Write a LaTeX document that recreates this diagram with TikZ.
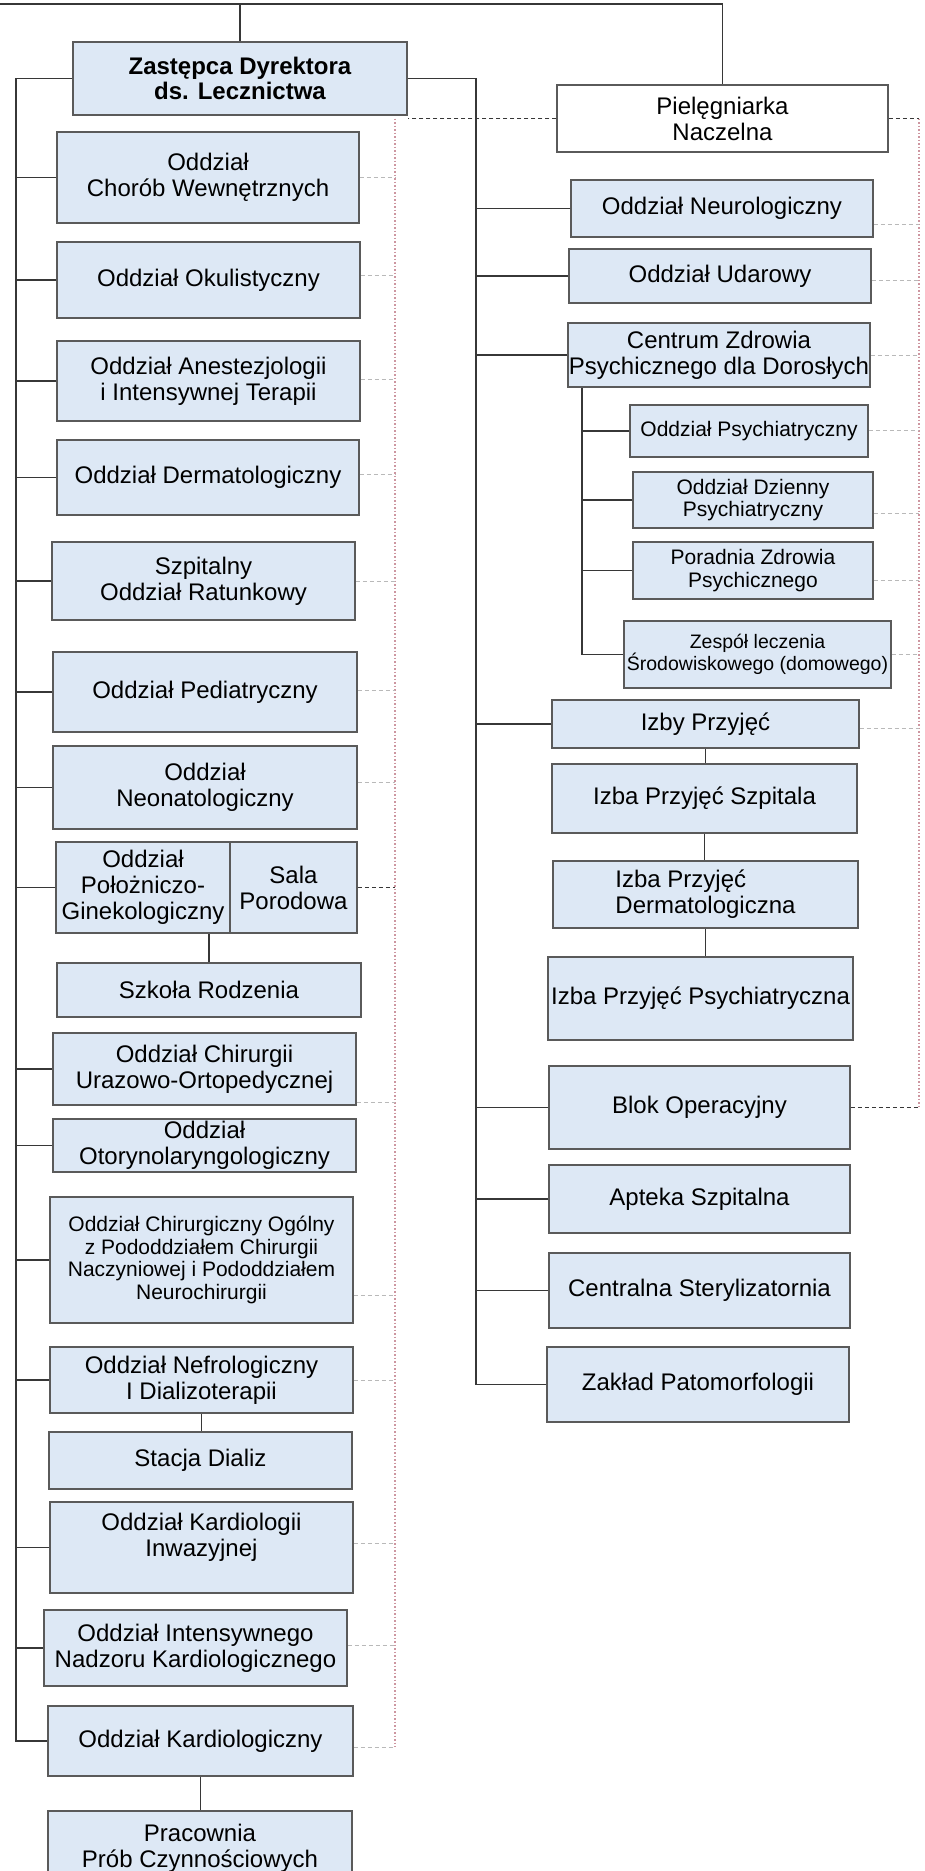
\documentclass[tikz,border=0pt]{standalone}
\usepackage{fontspec}
\setmainfont{Liberation Sans}
\usepackage{tikz}
\usetikzlibrary{calc}
\definecolor{UnitFill}{RGB}{221,232,245}
\definecolor{UnitBorder}{RGB}{90,90,90}
\definecolor{EdgeColor}{RGB}{55,55,55}
\definecolor{StubColor}{RGB}{185,185,185}
\definecolor{DotColor}{RGB}{205,150,160}
\tikzset{
  % department box
  unit/.style={
    draw=UnitBorder,
    fill=UnitFill,
    line width=1.5pt,
    align=center,
    inner sep=0pt,
    font=\fontsize{24}{26}\selectfont
  },
  % box size in pt
  wh/.style 2 args={minimum width=#1pt, minimum height=#2pt},
  % smaller text
  sunit/.style={unit, font=\fontsize{21}{22.5}\selectfont},
  % head box
  head/.style={unit, font=\fontsize{24}{25}\selectfont\bfseries},
  % white box
  wunit/.style={unit, fill=white},
  % solid connector
  edge/.style={draw=EdgeColor, line width=1.2pt},
  % dashed link
  dline/.style={draw=EdgeColor, line width=1.2pt, dash pattern=on 4pt off 3pt},
  % light dashed stub
  stub/.style={draw=StubColor, line width=1pt, dash pattern=on 4pt off 3pt},
  % dotted rail
  dotline/.style={draw=DotColor, line width=1.5pt, dash pattern=on 1.5pt off 2pt}
}

\begin{document}
\begin{tikzpicture}[x=1pt, y=-1pt]
  \fill[white] (0,0) rectangle (924,1871);
  \useasboundingbox (0,0) rectangle (924,1871);

  % left column
  \node[head, wh={334}{73}] (zast) at (240,78.5) {Zastępca Dyrektora\\ds. Lecznictwa};
  \node[unit, wh={302}{91}] (chor) at (208,177.5) {Oddział\\Chorób Wewnętrznych};
  \node[unit, wh={303}{76}] (okul) at (208.5,280) {Oddział Okulistyczny};
  \node[unit, wh={303}{80}] (anest) at (208.5,381) {Oddział Anestezjologii\\i Intensywnej Terapii};
  \node[unit, wh={302}{75}] (derm) at (208,477.5) {Oddział Dermatologiczny};
  \node[unit, wh={303}{78}] (szpit) at (203.5,581) {Szpitalny\\Oddział Ratunkowy};
  \node[unit, wh={304}{80}] (ped) at (205,692) {Oddział Pediatryczny};
  \node[unit, wh={304}{83}] (neo) at (205,787.5) {Oddział\\Neonatologiczny};
  \node[unit, wh={174}{91}] (polo) at (143,887.5) {Oddział\\Położniczo-\\Ginekologiczny};
  \node[unit, wh={127}{91}] (sala) at (293.5,887.5) {Sala\\Porodowa};
  \node[unit, wh={304}{54}] (szkola) at (209,990) {Szkoła Rodzenia};
  \node[unit, wh={303}{72}] (chiru) at (204.5,1069) {Oddział Chirurgii\\Urazowo-Ortopedycznej};
  \node[unit, wh={303}{53}] (otor) at (204.5,1145.5) {Oddział\\Otorynolaryngologiczny};
  \node[sunit, wh={303}{126}] (chirog) at (201.5,1260) {Oddział Chirurgiczny Ogólny\\z Pododdziałem Chirurgii\\Naczyniowej i Pododdziałem\\Neurochirurgii};
  \node[unit, wh={303}{66}] (nefro) at (201.5,1380) {Oddział Nefrologiczny\\I Dializoterapii};
  \node[unit, wh={303}{57}] (stacja) at (200.5,1460.5) {Stacja Dializ};
  \node[unit, wh={303}{91}] (kinw) at (201.5,1547.5) {Oddział Kardiologii\\Inwazyjnej\\\mbox{}};
  \node[unit, wh={303}{76}] (intens) at (195.5,1648) {Oddział Intensywnego\\Nadzoru Kardiologicznego};
  \node[unit, wh={305}{70}] (kard) at (200.5,1741) {Oddział Kardiologiczny};
  \node[unit, wh={304}{74}] (prac) at (200,1848) {Pracownia\\Prób Czynnościowych};

  % right column
  \node[wunit, wh={331}{67}] (piel) at (722.5,118.5) {Pielęgniarka\\Naczelna};
  \node[unit, wh={302}{57}] (neuro) at (722,208.5) {Oddział Neurologiczny};
  \node[unit, wh={302}{54}] (udar) at (720,276) {Oddział Udarowy};
  \node[unit, wh={302}{64}] (centrum) at (719,355) {Centrum Zdrowia\\Psychicznego dla Dorosłych};
  \node[sunit, wh={238}{52}] (psych) at (749,431) {Oddział Psychiatryczny};
  \node[sunit, wh={240}{56}] (dzienny) at (753,500) {Oddział Dzienny\\Psychiatryczny};
  \node[sunit, wh={240}{57}] (poradnia) at (753,570.5) {Poradnia Zdrowia\\Psychicznego};
  \node[sunit, wh={267}{67}, font=\fontsize{19.5}{22}\selectfont] (zespol) at (757.5,654.5) {Zespół leczenia\\Środowiskowego (domowego)};
  \node[unit, wh={307}{48}] (izby) at (705.5,724) {Izby Przyjęć};
  \node[unit, wh={305}{69}] (szpitala) at (704.5,798.5) {Izba Przyjęć Szpitala};
  \node[unit, wh={305}{67}, align=left] (dermat) at (705.5,894.5) {Izba Przyjęć\\Dermatologiczna};
  \node[unit, wh={305}{83}] (izbaps) at (700.5,998.5) {Izba Przyjęć Psychiatryczna};
  \node[unit, wh={301}{83}] (blok) at (699.5,1107.5) {Blok Operacyjny};
  \node[unit, wh={301}{68}] (apteka) at (699.5,1199) {Apteka Szpitalna};
  \node[unit, wh={301}{75}] (steryl) at (699.5,1290.5) {Centralna Sterylizatornia};
  \node[unit, wh={302}{75}] (zaklad) at (698,1384.5) {Zakład Patomorfologii};

  % rails
  \coordinate (top) at (0,4);
  \coordinate (ltr) at (16,0);
  \coordinate (rtr) at (476,0);
  \coordinate (ctr) at (582,0);
  \coordinate (ldot) at (395,0);
  \coordinate (rdot) at (919,0);

  % solid lines
  \draw[edge, line width=2.5pt] (top) -| (zast.north);
  \draw[edge] (top -| zast.north) -| (piel.north);
  \draw[edge] (zast.west) -| (ltr |- kard.west) -- (kard.west);
  \foreach \n in {chor,okul,anest,derm,szpit,ped,neo,polo,chiru,otor,chirog,nefro,kinw,intens}
    \draw[edge] (\n.west) -- (\n.west -| ltr);
  \draw[edge] (zast.east) -| (rtr |- zaklad.west) -- (zaklad.west);
  \foreach \n in {neuro,udar,centrum,izby,blok,apteka,steryl}
    \draw[edge] (\n.west) -- (\n.west -| rtr);
  \draw[edge] (centrum.south -| ctr) -- (ctr |- zespol.west) -- (zespol.west);
  \foreach \n in {psych,dzienny,poradnia}
    \draw[edge] (\n.west) -- (\n.west -| ctr);
  \draw[edge] (szkola.north) -- (szkola.north |- polo.south);
  \draw[edge] (nefro.south) -- (nefro.south |- stacja.north);
  \draw[edge] (kard.south) -- (kard.south |- prac.north);
  \draw[edge] (izby.south) -- (izby.south |- szpitala.north);
  \draw[edge] (szpitala.south) -- (szpitala.south |- dermat.north);
  \draw[edge] (dermat.south) -- (dermat.south |- izbaps.north);

  % dashed and dotted links
  \draw[dline] (piel.west) -- (piel.west -| zast.east);
  \draw[dline] (piel.east) -- (piel.east -| rdot);
  \draw[dline] (blok.east) -- (blok.east -| rdot);
  \draw[dline] (sala.east) -- (sala.east -| ldot);
  \draw[stub] (kard.east) ++(0,6) coordinate (kd) -- (kd -| ldot);
  \draw[dotline] (piel.west -| ldot) -- (kd -| ldot);
  \draw[dotline] (piel.east -| rdot) -- (blok.east -| rdot);
  \foreach \n/\dy in {chor/0,okul/-5,anest/-2,derm/-3,szpit/0,ped/-2,neo/-5,chiru/33,chirog/35,nefro/0,kinw/-4,intens/-3}
    \draw[stub] (\n.east) ++(0,\dy) coordinate (s) -- (s -| ldot);
  \foreach \n/\dy in {neuro/16,udar/4,centrum/0,psych/-1,dzienny/13,poradnia/10,zespol/0,izby/4}
    \draw[stub] (\n.east) ++(0,\dy) coordinate (s) -- (s -| rdot);
\end{tikzpicture}
\end{document}
